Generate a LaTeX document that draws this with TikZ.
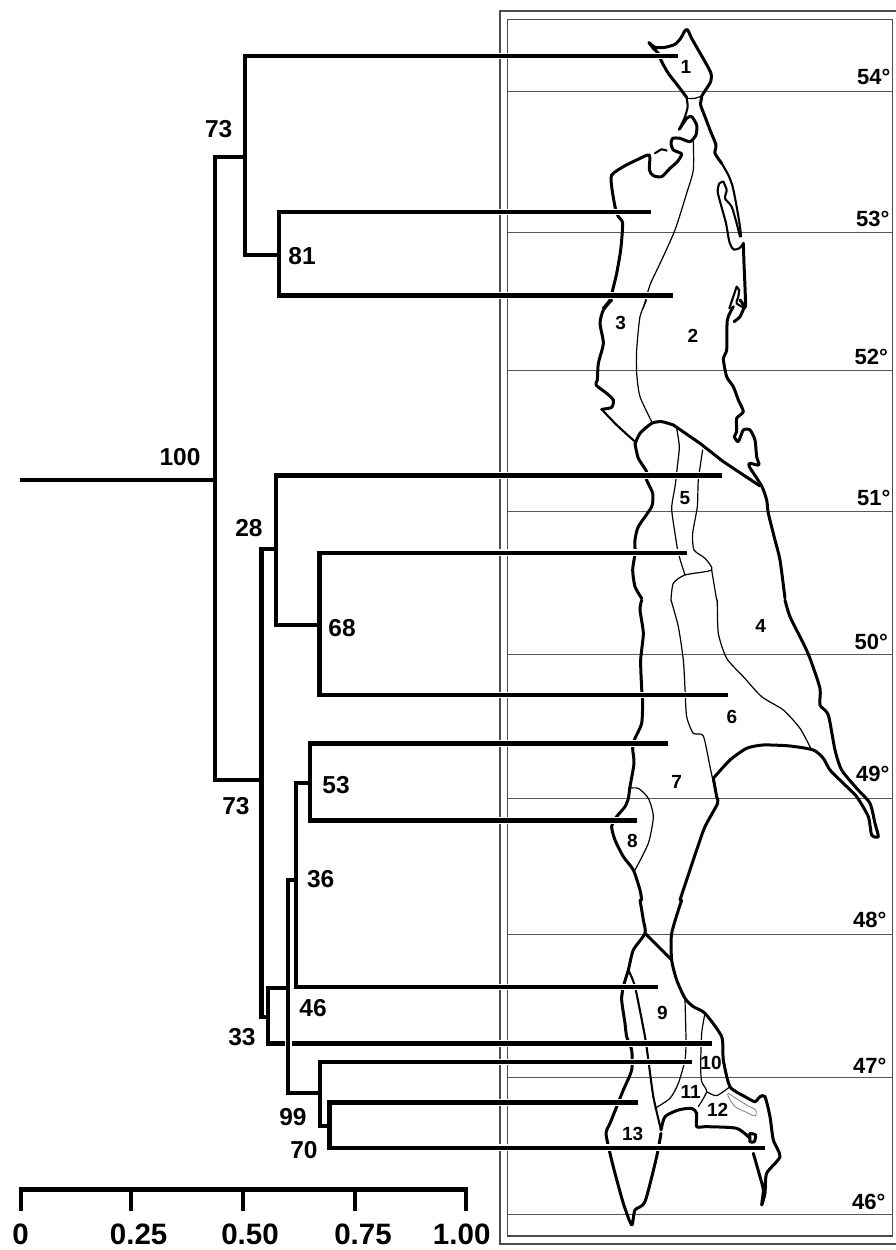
\documentclass[tikz,border=0pt]{standalone}
\usepackage{fontspec}
\setmainfont{Liberation Sans}
\tikzset{
  tree/.style={line width=4.4pt,line cap=butt,line join=miter,black},
  halo/.style={line width=6.8pt,white},
  coast/.style={line width=3pt,line join=round,line cap=round},
  coastmid/.style={line width=2.1pt,line join=round,line cap=round},
  border/.style={line width=1.2pt,line join=round,line cap=round},
  lake/.style={line width=.8pt,line join=round,gray},
  frameline/.style={line width=1.3pt,draw=black!70},
  lat/.style={line width=.9pt,draw=black!65},
  sup/.style={font=\fontsize{24.5}{25}\selectfont\bfseries,inner sep=0pt},
  deg/.style={font=\fontsize{22}{22}\selectfont\bfseries,inner sep=0pt,anchor=west},
  reg/.style={font=\fontsize{19}{19}\selectfont\bfseries,inner sep=0pt},
  scaletxt/.style={font=\fontsize{29.5}{30}\selectfont\bfseries,inner sep=0pt},
  zoomA/.style={shift={(590,10)},x=0.3333pt,y=-0.3333pt},
  zoomB/.style={shift={(590,300)},x=0.3333pt,y=-0.3333pt},
  zoomC/.style={shift={(590,600)},x=0.3333pt,y=-0.3333pt},
  zoomD/.style={shift={(590,900)},x=0.3333pt,y=-0.3333pt},
}
\newcommand{\trace}[2]{\draw[#1] plot[smooth,tension=.4] coordinates {#2};}
\begin{document}
\begin{tikzpicture}[x=1pt,y=-1pt]
\useasboundingbox (0,0) rectangle (896,1250);
\fill[white] (0,0) rectangle (896,1250);
% frame
\draw[frameline] (896,11) -- (500,11) -- (500,1244) -- (896,1244);
\draw[frameline] (507.5,19.5) rectangle (892.7,1236);
\foreach \yy in {91,232.5,370.7,511.7,654.3,798.3,934.3,1077.3,1214}
  \draw[lat] (507.5,\yy) -- (892.7,\yy);
% latitudes
\node[deg] (d54) at (857,76.5) {54°};
\node[deg] (d53) at (856,219) {53°};
\node[deg] (d52) at (854.5,356.5) {52°};
\node[deg] (d51) at (857,497.5) {51°};
\node[deg] (d50) at (854.5,642) {50°};
\node[deg] (d49) at (856,774) {49°};
\node[deg] (d48) at (853,920) {48°};
\node[deg] (d47) at (853,1065.5) {47°};
\node[deg] (d46) at (852,1202) {46°};
% map: top
\begin{scope}[zoomA]
\trace{coast}{(177,98) (195,112) (225,112) (255,103) (272,85) (285,62) (293,60) (305,85) (322,115) (345,155) (363,190) (362,215) (345,243) (335,258)}
\trace{coast}{(177,98) (190,115) (205,130) (215,155) (235,190) (262,225) (290,262)}
\trace{border}{(290,265) (315,265) (335,258)}
\trace{coast}{(335,262) (332,285) (345,320) (362,365) (378,405) (375,430) (395,460)}
\trace{coastmid}{(395,460) (415,495) (428,530) (440,590) (450,650) (453,680)}
\trace{coastmid}{(400,515) (388,520) (383,545) (393,585) (408,640) (418,695) (430,718) (448,715) (460,700)}
\trace{coastmid}{(400,515) (410,540) (405,565) (425,590) (440,640) (450,680)}
\trace{coast}{(460,700) (462,760) (465,830) (467,890)}
\trace{coastmid}{(290,265) (293,290) (285,320) (268,358)}
\trace{coast}{(268,358) (290,325) (305,320) (320,345) (318,375) (300,395) (270,385) (248,385) (243,400) (250,420) (275,432) (262,455) (240,475) (215,500) (190,497) (178,480) (178,435) (140,450) (100,470) (65,495) (65,530) (75,590) (85,620) (98,640) (92,720) (80,790) (68,840) (60,870) (40,895)}
\trace{coastmid}{(195,430) (215,418) (230,422)}
\trace{border}{(310,395) (310,480) (290,550) (255,660) (215,750) (180,825) (160,895)}
\trace{coastmid}{(440,830) (430,860) (418,895)}
\trace{coastmid}{(440,830) (447,840) (445,860) (440,880) (465,895)}
\end{scope}
% map: second
\begin{scope}[zoomB]
\trace{coast}{(65,0) (40,30) (30,70) (40,130) (25,190) (22,240) (18,255) (50,280) (70,300) (65,322) (35,328)}
\trace{coastmid}{(35,328) (80,375) (135,425)}
\trace{border}{(170,0) (150,50) (140,150) (140,220) (150,290) (185,365)}
\trace{coast}{(135,432) (150,400) (185,370) (215,365) (250,375)}
\draw[coast] (250,375) -- (330,430) -- (400,485) -- (510,558);
\trace{coast}{(135,432) (145,475) (170,515) (170,540) (188,580) (185,620) (145,680) (135,720) (135,760) (128,810) (135,860) (155,895)}
\trace{coast}{(450,0) (462,20) (450,50) (432,65)}
\trace{coast}{(430,20) (412,60) (410,150) (400,175) (410,230) (430,260) (445,300) (460,335) (440,355) (440,395) (433,410) (445,425) (460,390) (480,390) (495,420) (500,470) (507,495) (480,490) (478,500) (515,558) (530,600) (535,640) (555,720) (570,780) (585,895)}
\trace{border}{(260,385) (268,440) (262,500) (255,560) (245,625) (255,700) (265,760) (285,825)}
\trace{border}{(338,450) (325,540) (322,620) (308,700) (312,750) (345,775) (365,810) (285,825) (250,850) (243,900)}
\trace{border}{(365,810) (380,900)}
\end{scope}
% map: third
\begin{scope}[zoomC]
\trace{coast}{(155,0) (150,30) (160,100) (152,180) (155,265) (158,300) (155,370) (135,415) (128,445) (132,490) (120,560) (115,595) (105,620) (80,650) (65,680) (75,720) (100,770) (130,810) (150,870) (155,900)}
\trace{border}{(243,0) (265,80) (280,180) (285,265) (290,350) (310,400) (340,408) (362,510) (380,590)}
\trace{coast}{(370,535) (380,590) (383,610) (345,680) (320,750) (290,840) (270,900)}
\trace{border}{(382,0) (385,100) (410,175) (460,230) (515,290) (580,330) (630,385) (665,450)}
\trace{coast}{(585,0) (600,50) (640,130) (660,175) (690,265) (690,315) (715,345) (735,450) (755,510) (800,565) (840,610) (855,670) (865,710) (845,705) (835,650) (800,590) (760,550) (720,510) (700,475) (670,450) (600,438) (520,435) (470,445) (420,480) (370,535)}
\trace{border}{(115,565) (145,565) (175,595) (190,650) (175,730) (135,810)}
\end{scope}
% map: bottom
\begin{scope}[zoomD]
\trace{coast}{(150,0) (160,60) (165,100) (130,150) (115,210) (100,260) (95,300) (105,370) (110,410) (125,450) (125,510) (100,570) (80,620) (60,670) (48,700) (60,760) (75,820) (100,910) (125,975) (135,930) (165,905) (200,770) (213,700)}
\trace{coastmid}{(115,210) (135,260) (165,410) (175,480) (190,590) (213,690)}
\trace{coast}{(213,690) (225,650) (265,630) (305,625) (320,640) (320,680) (350,680) (440,685) (480,715)}
\trace{coast}{(480,700) (497,705) (493,725) (480,725) (480,700)}
\trace{coast}{(490,760) (510,830) (520,870) (515,915) (525,880) (530,820) (570,770) (550,720) (540,650) (525,590) (510,590) (495,605) (465,590) (420,560) (400,480) (395,410) (345,340) (310,320) (285,295) (260,240) (245,180) (245,100) (275,0)}
\draw[coast] (165,100) -- (245,180);
\trace{border}{(285,300) (288,420) (285,480) (265,550) (240,595) (195,625)}
\trace{border}{(345,340) (335,400) (332,500) (335,545) (350,575) (325,620)}
\trace{border}{(350,575) (380,587) (420,560)}
\draw[lake] plot[smooth cycle,tension=.5] coordinates {(415,580) (430,590) (470,615) (497,630) (495,648) (465,635) (435,620) (415,590)};
\end{scope}
% region numbers
\node[reg] (r1) at (686,66.7) {1};
\node[reg] (r2) at (693,336) {2};
\node[reg] (r3) at (620.7,323) {3};
\node[reg] (r4) at (760.7,625.7) {4};
\node[reg] (r5) at (685,498) {5};
\node[reg] (r6) at (732,716.7) {6};
\node[reg] (r7) at (676.7,781.7) {7};
\node[reg] (r8) at (632.3,840.7) {8};
\node[reg] (r9) at (662.3,1012.7) {9};
\node[reg] (r10) at (711,1062.7) {10};
\node[reg] (r11) at (690.7,1092.3) {11};
\node[reg] (r12) at (717.7,1110) {12};
\node[reg] (r13) at (632.7,1134) {13};
% tree coordinates
\coordinate (start) at (19.5,480);
\coordinate (n0) at (215,480);
\coordinate (A) at (245,157);
\coordinate (C) at (279,255);
\coordinate (B) at (261.5,780);
\coordinate (D) at (276,549);
\coordinate (E) at (268,1017);
\coordinate (F) at (319.3,625);
\coordinate (G) at (288,988);
\coordinate (H) at (296,880);
\coordinate (J) at (320,1093);
\coordinate (K) at (310,783);
\coordinate (M) at (329.5,1126);
\coordinate (l1) at (678,56);
\coordinate (l2) at (651,212);
\coordinate (l3) at (673,295.5);
\coordinate (l4) at (721.7,475.5);
\coordinate (l5) at (686.7,552.7);
\coordinate (l6) at (727.7,695);
\coordinate (l7) at (668,743.3);
\coordinate (l8) at (636.7,820.5);
\coordinate (l9) at (658,987);
\coordinate (l10) at (711.7,1043.3);
\coordinate (l11) at (692.3,1062);
\coordinate (l12) at (638.3,1102.3);
\coordinate (l13) at (765,1147.7);
\coordinate (fr) at (494,0);
% white halo where the branches cross the map
\foreach \l in {l1,l2,l3,l4,l5,l6,l7,l8,l9,l10,l11,l12,l13}
  \draw[halo] (fr |- \l) -- ([xshift=1.5pt]\l);
% tree
\draw[tree] (start) -- (n0);
\draw[tree] (A) -| (n0) |- (B);
\draw[tree] (l1) -| (A) |- (C);
\draw[tree] (l2) -| (C) |- (l3);
\draw[tree] (D) -| (B) |- (E);
\draw[tree] (l4) -| (D) |- (F);
\draw[tree] (l5) -| (F) |- (l6);
\draw[tree] (G) -| (E) |- (l10);
\draw[line width=7pt,white] (G |- l10) ++(0,-6) -- ++(0,12);
\draw[tree] (H) -| (G) |- (J);
\draw[tree] (K) -| (H) |- (l9);
\draw[tree] (l7) -| (K) |- (l8);
\draw[tree] (l11) -| (J) |- (M);
\draw[tree] (l12) -| (M) |- (l13);
% support values
\node[sup] (s100) at (180,456.7) {100};
\node[sup] (s73a) at (218.7,129.5) {73};
\node[sup] (s81) at (302,256) {81};
\node[sup] (s28) at (249,528) {28};
\node[sup] (s68) at (342,628) {68};
\node[sup] (s73b) at (236,805.7) {73};
\node[sup] (s53) at (336,785) {53};
\node[sup] (s36) at (320.7,879) {36};
\node[sup] (s46) at (313,1007.7) {46};
\node[sup] (s33) at (242,1036.7) {33};
\node[sup] (s99) at (293,1116.7) {99};
\node[sup] (s70) at (304,1150) {70};
% scale bar
\coordinate (t0) at (20.5,1189.5);
\coordinate (t1) at (131,1189.5);
\coordinate (t2) at (242.5,1189.5);
\coordinate (t3) at (354.5,1189.5);
\coordinate (t4) at (466,1189.5);
\draw[line width=4.5pt] ([xshift=-2pt]t0) -- ([xshift=2pt]t4);
\foreach \t in {t0,t1,t2,t3,t4}
  \draw[line width=4pt] (\t) -- ++(0,21.5);
\node[scaletxt] (x0) at (20.7,1234.5) {0};
\node[scaletxt] (x1) at (138.7,1234.5) {0.25};
\node[scaletxt] (x2) at (250,1234.5) {0.50};
\node[scaletxt] (x3) at (363,1234.5) {0.75};
\node[scaletxt] (x4) at (461.7,1234.5) {1.00};
\end{tikzpicture}
\end{document}
